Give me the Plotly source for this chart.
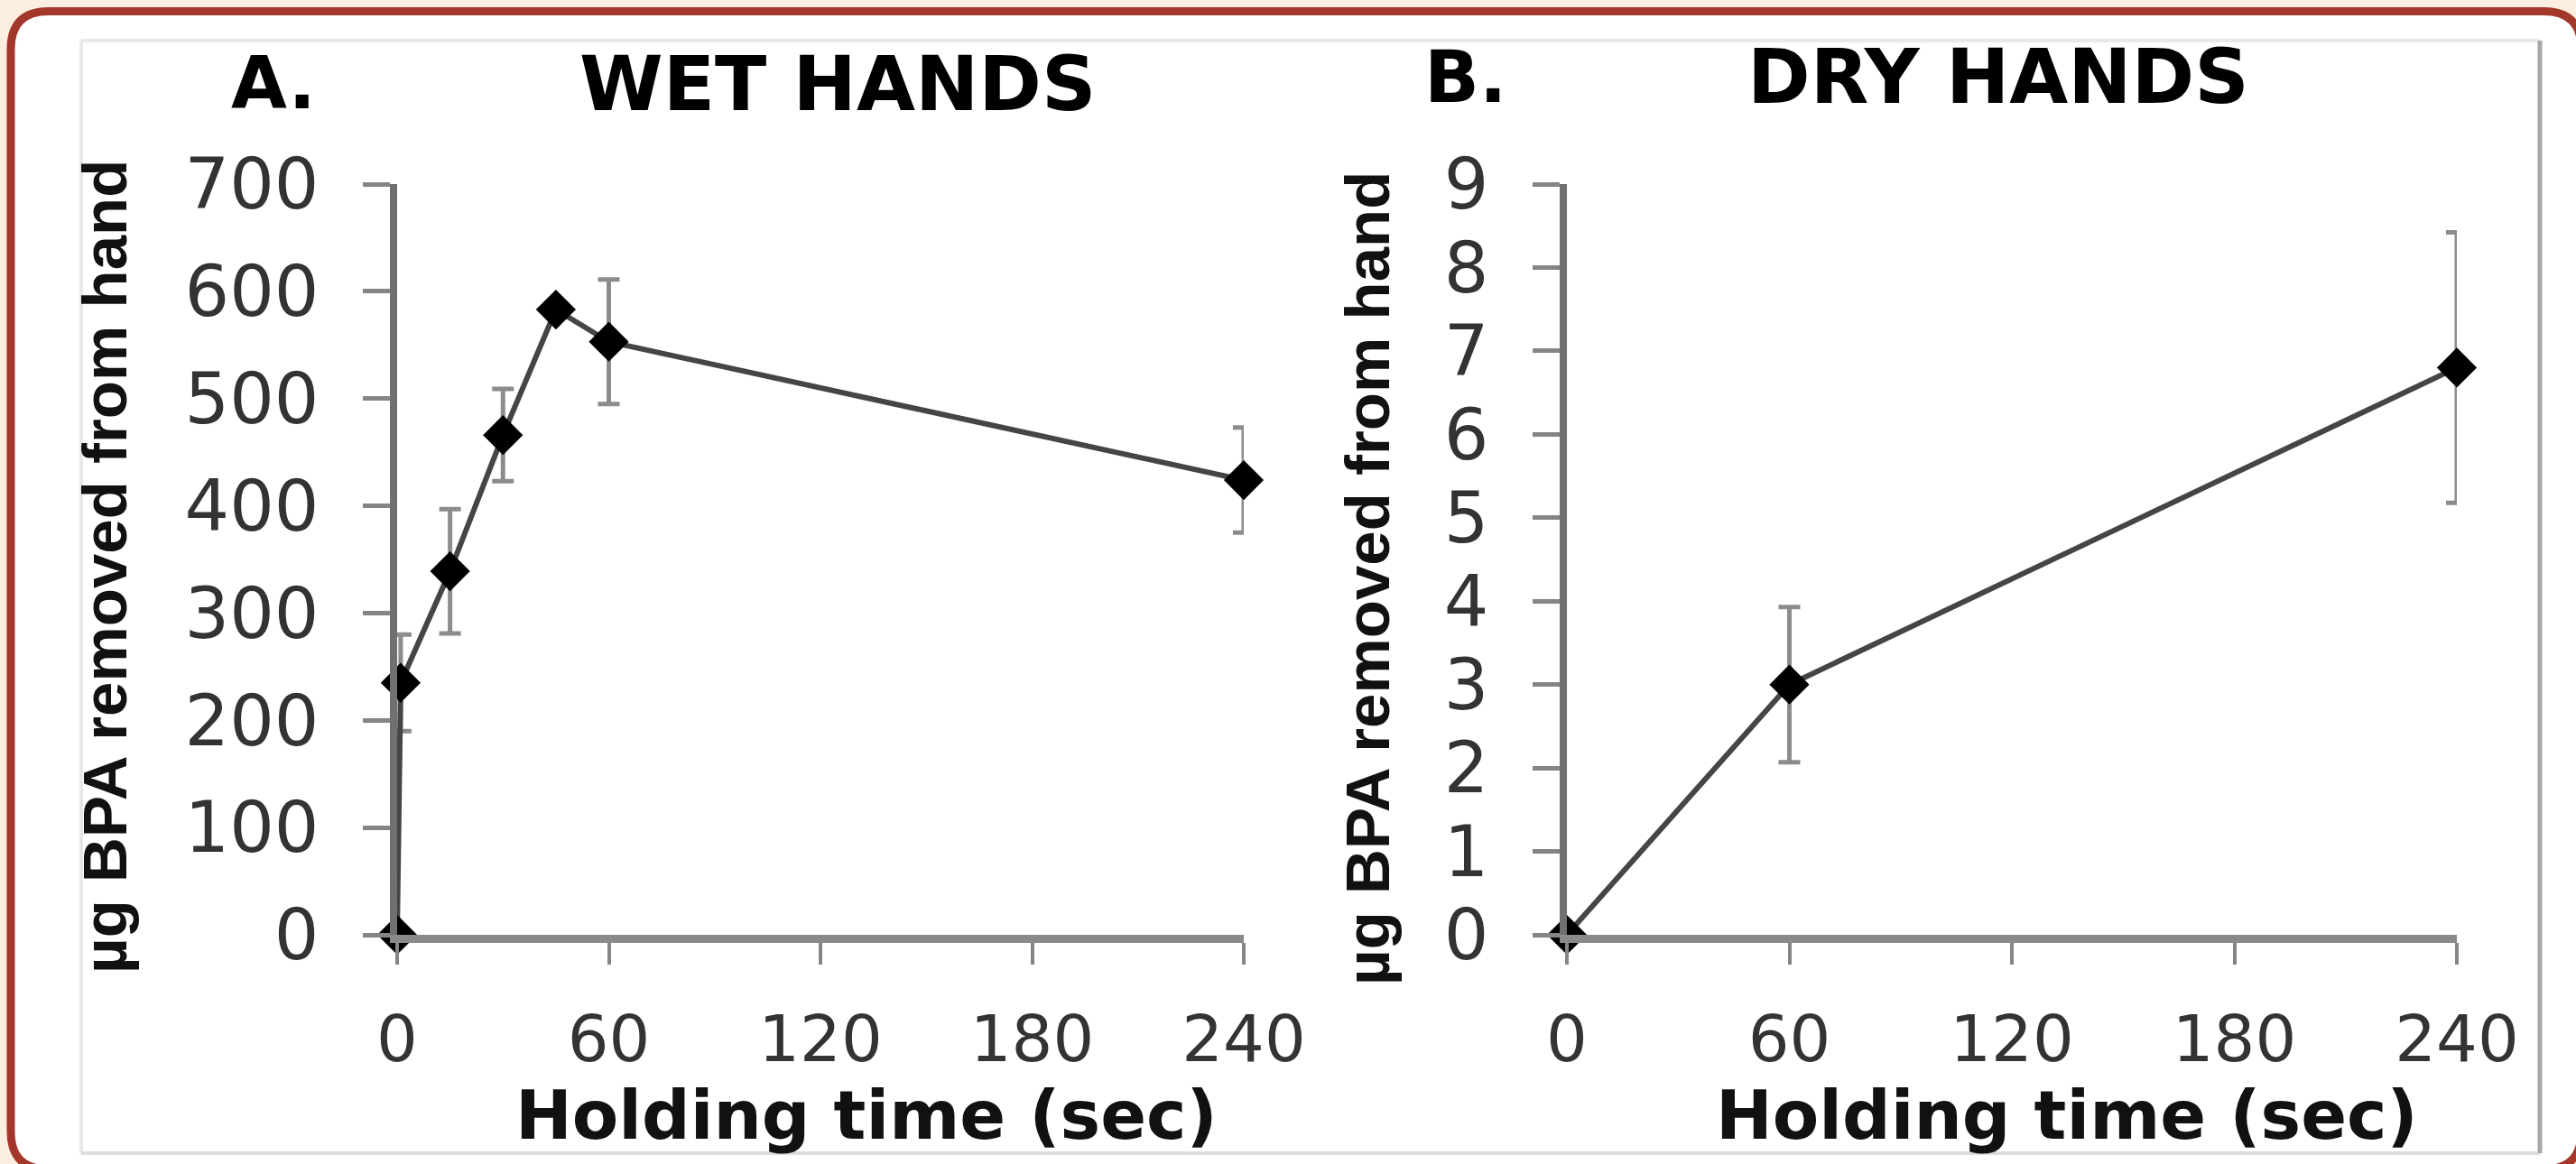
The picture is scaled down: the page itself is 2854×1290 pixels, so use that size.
import plotly.graph_objects as go

# ---------------- data ----------------
wet_time = [0, 1, 15, 30, 45, 60, 240]
wet_bpa = [0, 235, 339, 466, 583, 553, 424]
wet_err = [0, 45, 58, 43, 0, 58, 49]

dry_time = [0, 60, 240]
dry_bpa = [0, 3.0, 6.8]
dry_err = [0, 0.93, 1.62]

x_ticks = [0, 60, 120, 180, 240]
wet_yticks = [0, 100, 200, 300, 400, 500, 600, 700]
dry_yticks = [0, 1, 2, 3, 4, 5, 6, 7, 8, 9]

panel_letters = ["A.", "B."]
panel_titles = ["WET HANDS", "DRY HANDS"]
x_title = "Holding time (sec)"
y_title = "µg BPA removed from hand"

# ---------------- layout helpers ----------------
W, H = 2854, 1290


def px(x):
    return x / W


def py(y):
    return 1 - y / H


LINE = "#454545"
ERR = "#8c8c8c"
AXIS = "#858585"
TXT = "#333333"
RED = "#a3372b"
PEACH = "#fcefe1"
SANS = "DejaVu Sans"
ARIAL = "Liberation Sans, Arial"

fig = go.Figure()


def add_series(x, y, e, xa, ya):
    fig.add_trace(go.Scatter(
        x=x, y=y, xaxis=xa, yaxis=ya, mode="lines+markers",
        line=dict(color=LINE, width=6),
        marker=dict(symbol="diamond", size=34, color="black"),
        error_y=dict(type="data", array=e, visible=True, color=ERR,
                     thickness=5, width=12),
        cliponaxis=False, showlegend=False,
    ))


add_series(wet_time, wet_bpa, wet_err, "x", "y")
add_series(dry_time, dry_bpa, dry_err, "x2", "y2")

ydom = [py(1036), py(204)]
common_x = dict(
    range=[0, 240], tickvals=x_ticks, showline=True, linecolor="#8a8a8a",
    linewidth=9, ticks="outside", ticklen=24, tickwidth=4, tickcolor=AXIS,
    showgrid=False, zeroline=False, fixedrange=True, automargin=False,
    tickfont=dict(family=SANS, size=72, color=TXT), ticklabelstandoff=21,
)
common_y = dict(
    showline=True, linecolor="#707070", linewidth=8, ticks="outside",
    ticklen=30, tickwidth=5, tickcolor=AXIS, showgrid=False, zeroline=False,
    fixedrange=True, domain=ydom, automargin=False,
    tickfont=dict(family=SANS, size=78, color=TXT), ticklabelstandoff=33,
)

fig.update_layout(
    template="none",
    width=W, height=H, autosize=False,
    margin=dict(l=0, r=0, t=0, b=0, pad=0),
    paper_bgcolor=PEACH, plot_bgcolor="rgba(0,0,0,0)",
    xaxis=dict(domain=[px(440), px(1378)], anchor="y", **common_x),
    yaxis=dict(range=[0, 700], tickvals=wet_yticks, anchor="x", **common_y),
    xaxis2=dict(domain=[px(1736), px(2722)], anchor="y2", **common_x),
    yaxis2=dict(range=[0, 9], tickvals=dry_yticks, anchor="x2", **common_y),
)

# rounded red frame with white interior
x0, y0, x1, y1, r = 12, 12.5, 2860, 1296, 42
path = (
    f"M {px(x0 + r)} {py(y0)} L {px(x1 - r)} {py(y0)} "
    f"Q {px(x1)} {py(y0)} {px(x1)} {py(y0 + r)} "
    f"L {px(x1)} {py(y1 - r)} Q {px(x1)} {py(y1)} {px(x1 - r)} {py(y1)} "
    f"L {px(x0 + r)} {py(y1)} Q {px(x0)} {py(y1)} {px(x0)} {py(y1 - r)} "
    f"L {px(x0)} {py(y0 + r)} Q {px(x0)} {py(y0)} {px(x0 + r)} {py(y0)} Z"
)
fig.add_shape(type="path", path=path, xref="paper", yref="paper",
              line=dict(color=RED, width=9), fillcolor="white", layer="below")

# faint original image border
for (a, b, c, d, col, w) in [
    (90, 45, 2814, 45, "#e8e8e8", 4),
    (90, 45, 90, 1278, "#e8e8e8", 4),
    (90, 1278, 2814, 1278, "#dddddd", 4),
    (2814, 45, 2814, 1278, "#a8a8a8", 5),
]:
    fig.add_shape(type="line", xref="paper", yref="paper",
                  x0=px(a), y0=py(b), x1=px(c), y1=py(d),
                  line=dict(color=col, width=w), layer="below")

# titles
title_pos = [((303, 93), (928, 93)), ((1623, 85), (2214, 85))]
for letter, title, (lp, tp) in zip(panel_letters, panel_titles, title_pos):
    fig.add_annotation(x=px(lp[0]), y=py(lp[1]), xref="paper", yref="paper",
                       text=f"<b>{letter}</b>", showarrow=False,
                       xanchor="center", yanchor="middle",
                       font=dict(family=SANS, size=80, color="black"))
    fig.add_annotation(x=px(tp[0]), y=py(tp[1]), xref="paper", yref="paper",
                       text=f"<b>{title}</b>", showarrow=False,
                       xanchor="center", yanchor="middle",
                       font=dict(family=SANS, size=84, color="black"))

# axis titles
for (cx, cy) in [(960, 1236), (2290, 1236)]:
    fig.add_annotation(x=px(cx), y=py(cy), xref="paper", yref="paper",
                       text=f"<b>{x_title}</b>", showarrow=False,
                       xanchor="center", yanchor="middle",
                       font=dict(family=SANS, size=75, color="#111111"))
for (cx, cy) in [(116, 628), (1515, 641)]:
    fig.add_annotation(x=px(cx), y=py(cy), xref="paper", yref="paper",
                       text=f"<b>{y_title}</b>", showarrow=False,
                       textangle=-90, xanchor="center", yanchor="middle",
                       font=dict(family=ARIAL, size=69, color="#111111"))

fig.write_html("out.html", include_plotlyjs=True,
               config={"displayModeBar": False},
               post_script="document.body.style.margin='0px';document.body.style.overflow='hidden';")
